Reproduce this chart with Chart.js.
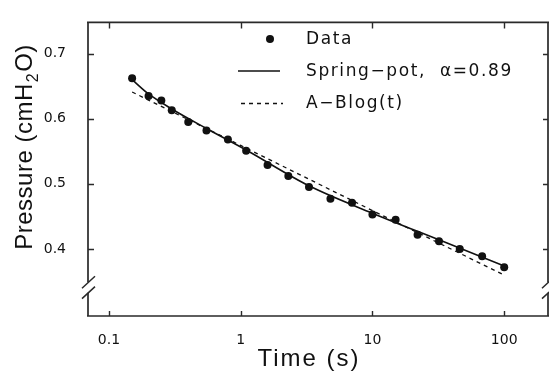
<!DOCTYPE html>
<html>
<head>
<meta charset="utf-8">
<script src="https://cdn.jsdelivr.net/npm/chart.js@4/dist/chart.umd.min.js"></script>
<style>
  html, body { margin: 0; padding: 0; background: #fff; }
  #wrap { width: 549px; height: 374px; overflow: hidden; position: relative; }
  canvas { display: block; }
</style>
</head>
<body>
<div id="wrap"><canvas id="c" width="552" height="374"></canvas></div>
<script>
// ---------- data ----------
const times    = [0.15, 0.2, 0.25, 0.3, 0.4, 0.55, 0.8, 1.1, 1.6, 2.3, 3.3, 4.8, 7, 10, 15, 22, 32, 46, 68, 100];
const pressure = [0.662, 0.635, 0.628, 0.613, 0.595, 0.582, 0.568, 0.551, 0.529, 0.512, 0.495, 0.477, 0.471, 0.453, 0.445, 0.422, 0.412, 0.400, 0.389, 0.372];

// spring-pot fit (solid curve)
const springT = [0.15, 0.2, 0.3, 0.55, 1.1, 3.3, 10, 32, 100];
const springP = [0.660, 0.638, 0.615, 0.585, 0.552, 0.497, 0.455, 0.414, 0.374];

// A - B log(t) fit (dashed line)
const blogT = [0.15, 1, 10, 100];
const blogP = [0.641, 0.559, 0.459, 0.360];

const xTicks = [0.1, 1, 10, 100];
const yTicks = [0.4, 0.5, 0.6, 0.7];

const pts = (xs, ys) => xs.map((x, i) => ({ x, y: ys[i] }));

const INK = "#111";
const AXIS = "#2a2a2a";

// ---------- frame, inward ticks, axis breaks ----------
const framePlugin = {
  id: "frame",
  afterDraw(chart) {
    const { ctx, chartArea: a, scales: { x, y } } = chart;
    const yb1 = y.getPixelForValue(0.349), yb2 = y.getPixelForValue(0.333);
    ctx.save();
    ctx.strokeStyle = AXIS;
    ctx.lineWidth = 1.7;
    ctx.beginPath();
    // left axis with a gap at the break
    ctx.moveTo(a.left, a.top); ctx.lineTo(a.left, yb1);
    ctx.moveTo(a.left, yb2);   ctx.lineTo(a.left, a.bottom);
    // bottom + top
    ctx.moveTo(a.left - 1, a.bottom); ctx.lineTo(a.right + 2, a.bottom);
    ctx.moveTo(a.left - 1, a.top);    ctx.lineTo(a.right + 2, a.top);
    // right axis (mostly off-canvas)
    ctx.moveTo(a.right, a.top); ctx.lineTo(a.right, yb1);
    ctx.moveTo(a.right, yb2);   ctx.lineTo(a.right, a.bottom);
    ctx.stroke();

    ctx.lineWidth = 1.4;
    ctx.beginPath();
    xTicks.forEach((v) => {
      const px = Math.round(x.getPixelForValue(v)) + 0.5;
      ctx.moveTo(px, a.bottom); ctx.lineTo(px, a.bottom - 5);
      ctx.moveTo(px, a.top);    ctx.lineTo(px, a.top + 6);
    });
    yTicks.forEach((v) => {
      const py = Math.round(y.getPixelForValue(v)) + 0.5;
      ctx.moveTo(a.left, py);  ctx.lineTo(a.left + 6, py);
      ctx.moveTo(a.right, py); ctx.lineTo(a.right - 5, py);
    });
    ctx.stroke();

    // break slashes
    ctx.lineWidth = 1.5;
    ctx.beginPath();
    [a.left, a.right].forEach((ax) => {
      [0.349, 0.333].forEach((v) => {
        const py = y.getPixelForValue(v);
        ctx.moveTo(ax - 6, py + 6); ctx.lineTo(ax + 7, py - 6);
      });
    });
    ctx.stroke();
    ctx.restore();
  },
};

// ---------- legend + axis titles ----------
const textPlugin = {
  id: "texts",
  afterDraw(chart) {
    const { ctx, chartArea: a } = chart;
    ctx.save();
    ctx.fillStyle = INK;
    ctx.strokeStyle = INK;

    // legend
    ctx.beginPath(); ctx.arc(270, 39, 4, 0, Math.PI * 2); ctx.fill();
    ctx.lineWidth = 1.6;
    ctx.beginPath(); ctx.moveTo(238, 71); ctx.lineTo(280, 71); ctx.stroke();
    ctx.setLineDash([4, 4]);
    ctx.lineWidth = 1.3;
    ctx.beginPath(); ctx.moveTo(241, 103.5); ctx.lineTo(283, 103.5); ctx.stroke();
    ctx.setLineDash([]);

    ctx.font = "17px 'DejaVu Sans'";
    ctx.letterSpacing = "1.6px";
    ctx.textBaseline = "middle";
    ctx.textAlign = "left";
    ctx.fillText("Data", 306, 40);
    ctx.fillText("Spring\u2212pot,  \u03b1=0.89", 306, 72);
    ctx.fillText("A\u2212Blog(t)", 306, 104);

    // x title
    ctx.font = "24px 'Liberation Sans'";
    ctx.letterSpacing = "2px";
    ctx.textBaseline = "alphabetic";
    ctx.textAlign = "center";
    ctx.fillText("Time (s)", a.left + 221, 366);

    // y title, rotated, with a real subscript 2
    ctx.letterSpacing = "0.5px";
    ctx.translate(32, 147);
    ctx.rotate(-Math.PI / 2);
    ctx.textAlign = "left";
    const big = "24px 'Liberation Sans'", small = "16px 'Liberation Sans'";
    const p1 = "Pressure (cmH", p2 = "2", p3 = "O)";
    ctx.font = big;   const w1 = ctx.measureText(p1).width, w3 = ctx.measureText(p3).width;
    ctx.font = small; const w2 = ctx.measureText(p2).width;
    let sx = -(w1 + w2 + w3 + 2) / 2;
    ctx.font = big;   ctx.fillText(p1, sx, 0); sx += w1 + 1;
    ctx.font = small; ctx.fillText(p2, sx, 6); sx += w2 + 1;
    ctx.font = big;   ctx.fillText(p3, sx, 0);
    ctx.restore();
  },
};

new Chart(document.getElementById("c"), {
  type: "scatter",
  data: {
    datasets: [
      { label: "Data", data: pts(times, pressure), showLine: false,
        pointRadius: 4, pointHoverRadius: 4, backgroundColor: INK, borderColor: INK, borderWidth: 0 },
      { label: "Spring-pot, \u03b1=0.89", data: pts(springT, springP), showLine: true,
        pointRadius: 0, borderColor: INK, borderWidth: 1.6, cubicInterpolationMode: "monotone" },
      { label: "A-Blog(t)", data: pts(blogT, blogP), showLine: true,
        pointRadius: 0, borderColor: INK, borderWidth: 1.3, borderDash: [4, 4] },
    ],
  },
  options: {
    responsive: false,
    animation: false,
    devicePixelRatio: 1,
    layout: { padding: { top: 8, right: 2, left: 0, bottom: 0 } },
    plugins: { legend: { display: false }, tooltip: { enabled: false } },
    scales: {
      x: {
        type: "logarithmic",
        min: 0.06939, max: 215,
        grid: { display: false }, border: { display: false },
        afterBuildTicks: (s) => { s.ticks = xTicks.map((v) => ({ value: v })); },
        afterFit: (s) => { s.height = 58; },
        ticks: { color: INK, font: { family: "DejaVu Sans", size: 14 }, padding: 8,
                 maxRotation: 0, autoSkip: false, callback: (v) => String(v) },
      },
      y: {
        min: 0.29712, max: 0.74786,
        grid: { display: false }, border: { display: false },
        afterBuildTicks: (s) => { s.ticks = yTicks.map((v) => ({ value: v })); },
        afterFit: (s) => { s.width = 88; },
        ticks: { color: INK, font: { family: "DejaVu Sans", size: 14 }, padding: 14,
                 callback: (v) => v.toFixed(1) },
      },
    },
  },
  plugins: [framePlugin, textPlugin],
});
</script>
</body>
</html>
